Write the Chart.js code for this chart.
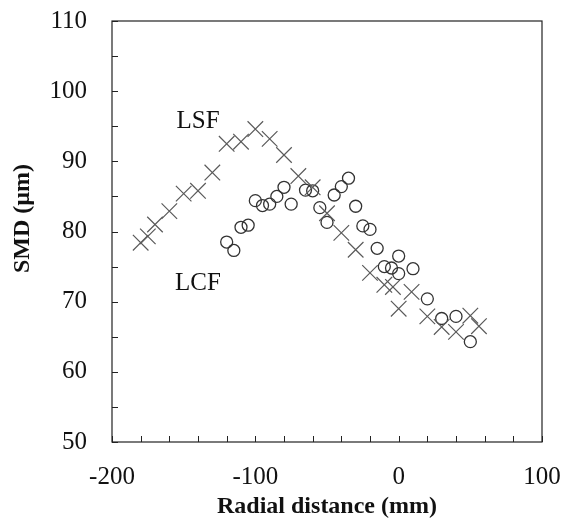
<!DOCTYPE html>
<html>
<head>
<meta charset="utf-8">
<script src="https://cdn.jsdelivr.net/npm/chart.js@4.4.1/dist/chart.umd.min.js"></script>
<style>
  html, body { margin: 0; padding: 0; background: #fff; }
  #wrap { width: 563px; height: 529px; }
</style>
</head>
<body>
<div id="wrap"><canvas id="smdChart"></canvas></div>
<script>
// LSF series (crosses)
const lsfX = [-180, -175, -170, -160, -150, -140, -130, -120, -110, -100, -90, -80, -70, -60, -50, -40, -30, -20, -10, -4, 0, 9, 20, 30, 40, 50, 56];
const lsfY = [78.4, 79.3, 81.0, 82.9, 85.4, 85.8, 88.4, 92.5, 92.8, 94.6, 93.2, 90.9, 87.9, 86.3, 82.6, 79.8, 77.4, 74.1, 72.4, 72.1, 69.0, 71.4, 67.9, 66.4, 65.7, 68.0, 66.5];

// LCF series (circles)
const lcfX = [-120, -115, -110, -105, -100, -95, -90, -85, -80, -75, -65, -60, -55, -50, -45, -40, -35, -30, -25, -20, -15, -10, -5, 0, 0, 10, 20, 30, 40, 50];
const lcfY = [78.5, 77.3, 80.6, 80.9, 84.4, 83.7, 83.9, 85.0, 86.3, 83.9, 85.9, 85.8, 83.4, 81.3, 85.2, 86.4, 87.6, 83.6, 80.8, 80.3, 77.6, 75.0, 74.8, 76.5, 74.0, 74.7, 70.4, 67.6, 67.9, 64.3];

// text labels next to the series
const seriesNames = ["LSF", "LCF"];
const nameX = [-140, -140];
const nameY = [95.7, 72.6];

const xTickLabels = [-200, -100, 0, 100];
const yTickLabels = [50, 60, 70, 80, 90, 100, 110];
const yTitle = "SMD (µm)";

const serif = "'Liberation Serif', 'Times New Roman', serif";

function toPoints(xs, ys) {
  return xs.map((x, i) => ({ x: x, y: ys[i] }));
}

// frame + ticks pointing inward, the LSF / LCF names and the y title
const framePlugin = {
  id: "frame",
  afterDraw(chart) {
    const c = chart.ctx;
    const a = chart.chartArea;
    const sx = chart.scales.x;
    const sy = chart.scales.y;
    c.save();
    c.strokeStyle = "#222";
    c.lineWidth = 1.2;
    c.strokeRect(a.left, a.top, a.right - a.left, a.bottom - a.top);
    c.lineWidth = 1;
    c.beginPath();
    sx.ticks.forEach(t => {
      const px = Math.round(sx.getPixelForValue(t.value)) + 0.5;
      c.moveTo(px, a.bottom);
      c.lineTo(px, a.bottom - 6);
    });
    sy.ticks.forEach(t => {
      const py = Math.round(sy.getPixelForValue(t.value)) + 0.5;
      c.moveTo(a.left, py);
      c.lineTo(a.left + 6, py);
    });
    c.stroke();

    c.fillStyle = "#111";
    c.font = "25px " + serif;
    c.textAlign = "center";
    c.textBaseline = "middle";
    seriesNames.forEach((n, i) => {
      c.fillText(n, sx.getPixelForValue(nameX[i]), sy.getPixelForValue(nameY[i]));
    });

    // y title sits a bit above the middle of the axis in the original
    c.font = "bold 24px " + serif;
    c.translate(23, (a.top + a.bottom) / 2 - 13);
    c.rotate(-Math.PI / 2);
    c.fillText(yTitle, 0, 0);
    c.restore();
  }
};

// fixed axis boxes, no extra label padding around the plot
function noPad(scale) {
  scale.paddingTop = 0;
  scale.paddingBottom = 0;
  scale.paddingLeft = 0;
  scale.paddingRight = 0;
}

const ctx = document.getElementById("smdChart").getContext("2d");

const config = {
  type: "scatter",
  data: {
    datasets: [
      {
        label: "LSF",
        data: toPoints(lsfX, lsfY),
        pointStyle: "crossRot",
        pointRadius: 11,
        borderColor: "#5a5a5a",
        borderWidth: 1.2,
        backgroundColor: "transparent",
      },
      {
        label: "LCF",
        data: toPoints(lcfX, lcfY),
        pointStyle: "circle",
        pointRadius: 6,
        borderColor: "#333",
        borderWidth: 1.3,
        backgroundColor: "transparent",
      },
    ],
  },
  options: {
    responsive: true,
    maintainAspectRatio: false,
    animation: false,
    layout: { padding: { left: 0, right: 21, top: 21, bottom: 0 } },
    plugins: {
      legend: { display: false },
      tooltip: { enabled: false },
    },
    scales: {
      x: {
        type: "linear",
        min: -200,
        max: 100,
        border: { display: false },
        grid: { display: false, drawTicks: false },
        afterFit(scale) {
          scale.height = 87;
          noPad(scale);
        },
        ticks: {
          stepSize: 20,
          autoSkip: false,
          maxRotation: 0,
          padding: 20,
          color: "#111",
          font: { family: serif, size: 25 },
          callback: v => (xTickLabels.includes(v) ? String(v) : ""),
        },
        title: {
          display: true,
          text: "Radial distance (mm)",
          color: "#111",
          font: { family: serif, size: 24, weight: "bold" },
          padding: { top: 4, bottom: 8 },
        },
      },
      y: {
        type: "linear",
        min: 50,
        max: 110,
        border: { display: false },
        grid: { display: false, drawTicks: false },
        afterFit(scale) {
          scale.width = 112;
          noPad(scale);
        },
        ticks: {
          stepSize: 5,
          autoSkip: false,
          padding: 25,
          color: "#111",
          font: { family: serif, size: 25 },
          callback: v => (yTickLabels.includes(v) ? String(v) : ""),
        },
        title: { display: false },
      },
    },
  },
  plugins: [framePlugin],
};

const smdChart = new Chart(ctx, config);
</script>
</body>
</html>
